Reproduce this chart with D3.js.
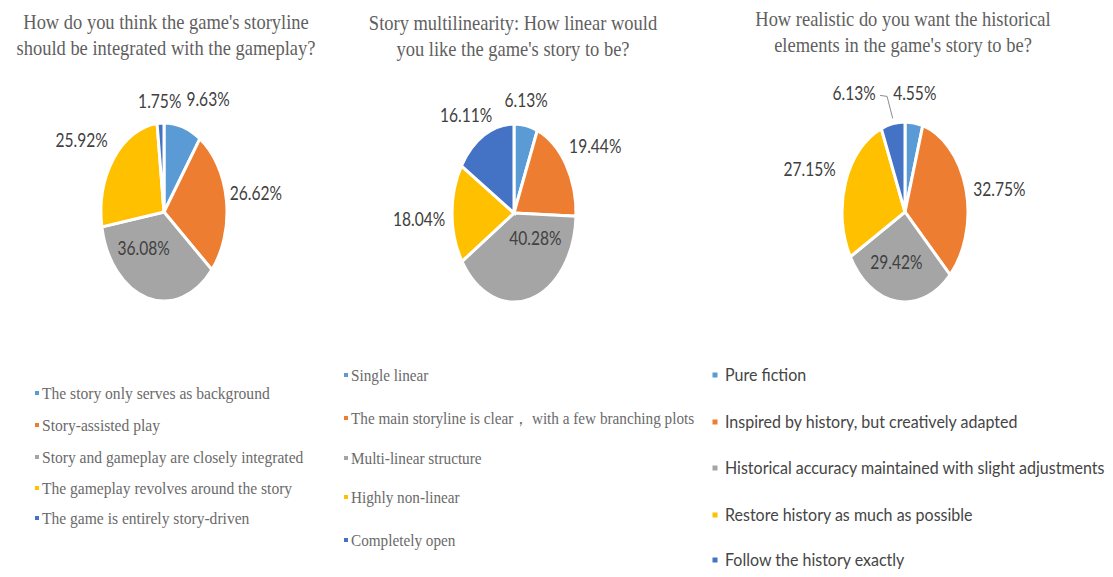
<!DOCTYPE html>
<html>
<head>
<meta charset="utf-8">
<script src="https://cdn.jsdelivr.net/npm/d3@7"></script>
<style>
  html, body { margin: 0; padding: 0; background: #ffffff; }
  svg { display: block; }
</style>
</head>
<body>
<svg id="chart" width="1113" height="577"></svg>
<script>
// ---- Survey answers (percent of respondents), clockwise from 12 o'clock ----
const integrationTitle = ["How do you think the game's storyline", "should be integrated with the gameplay?"];
const integrationCategories = [
  "The story only serves as background",
  "Story-assisted play",
  "Story and gameplay are closely integrated",
  "The gameplay revolves around the story",
  "The game is entirely story-driven"
];
const integrationValues = [9.63, 26.62, 36.08, 25.92, 1.75];

const linearityTitle = ["Story multilinearity: How linear would", "you like the game's story to be?"];
const linearityCategories = [
  "Single linear",
  "The main storyline is clear， with a few branching plots",
  "Multi-linear structure",
  "Highly non-linear",
  "Completely open"
];
const linearityValues = [6.13, 19.44, 40.28, 18.04, 16.11];

const realismTitle = ["How realistic do you want the historical", "elements in the game's story to be?"];
const realismCategories = [
  "Pure fiction",
  "Inspired by history, but creatively adapted",
  "Historical accuracy maintained with slight adjustments",
  "Restore history as much as possible",
  "Follow the history exactly"
];
const realismValues = [4.55, 32.75, 29.42, 27.15, 6.13];

const sliceColors = ["#5B9BD5", "#ED7D31", "#A5A5A5", "#FFC000", "#4472C4"];

// ---- Layout ----
const serif = "'Liberation Serif', 'Times New Roman', serif";
const sans = "Lato, 'Liberation Sans', sans-serif";

const panels = [
  {
    title: integrationTitle, categories: integrationCategories, values: integrationValues,
    cx: 164, cy: 212, rx: 63, ry: 89, titleX: 166, titleY: 29,
    // label placement: radial factor k and pixel nudge
    labels: [{k: 1.28, dx: 20, dy: 3}, {k: 1.47, dx: 0, dy: 5}, {k: 0.44, dx: -13, dy: 5},
             {k: 1.4, dx: -12, dy: 10}, {k: 1.23, dx: 0, dy: 5}],
    legend: {x: 37, y0: 393, textGap: 5, rows: [0, 32, 64, 95, 125], font: serif, size: 17.5, squeeze: 0.89, color: "#6a6a6a", marker: 4}
  },
  {
    title: linearityTitle, categories: linearityCategories, values: linearityValues,
    cx: 514, cy: 213, rx: 62, ry: 89, titleX: 513, titleY: 30,
    labels: [{k: 1.27, dx: -3, dy: 5}, {k: 1.35, dx: 11, dy: 5}, {k: 0.32, dx: 16, dy: 5},
             {k: 1.53, dx: 0, dy: 12}, {k: 1.23, dx: -11, dy: 5}],
    legend: {x: 346, y0: 375, textGap: 5, rows: [0, 43, 83, 122, 165], font: serif, size: 17.5, squeeze: 0.87, color: "#6a6a6a", marker: 4}
  },
  {
    title: realismTitle, categories: realismCategories, values: realismValues,
    cx: 905, cy: 212, rx: 63, ry: 90, titleX: 903, titleY: 26,
    labels: [{k: 1.31, dx: -2, dy: 5}, {k: 1.5, dx: 3, dy: 18}, {k: 0.58, dx: -4, dy: 5},
             {k: 1.4, dx: -12, dy: 5}, {k: 1.32, dx: -35, dy: 5}],
    leader: 4,
    legend: {x: 715, y0: 375, textGap: 10, rows: [0, 47, 93, 140, 185], font: sans, size: 18, squeeze: 0.89, color: "#454545", marker: 5}
  }
];

const svg = d3.select("#chart");

// Horizontally condensed text, anchored at (x, y)
function squeezedText(parent, x, y, str, opts) {
  const g = parent.append("g")
    .attr("transform", `translate(${x},${y}) scale(${opts.squeeze},1)`);
  return g.append("text")
    .attr("x", 0).attr("y", 0)
    .attr("text-anchor", opts.anchor || "start")
    .attr("font-family", opts.font)
    .attr("font-size", opts.size)
    .attr("fill", opts.color)
    .text(str);
}

const pie = d3.pie().sort(null).value(d => d);

panels.forEach(p => {
  // Title
  p.title.forEach((line, i) => {
    squeezedText(svg, p.titleX, p.titleY + i * 26, line,
      {font: serif, size: 21, squeeze: 0.88, color: "#5f5f5f", anchor: "middle"});
  });

  // Pie drawn as a circle of radius ry, stretched to an ellipse
  const arcs = pie(p.values);
  const arc = d3.arc().innerRadius(0).outerRadius(p.ry);
  const g = svg.append("g")
    .attr("transform", `translate(${p.cx},${p.cy}) scale(${p.rx / p.ry},1)`);
  g.selectAll("path").data(arcs).join("path")
    .attr("d", arc)
    .attr("fill", (d, i) => sliceColors[i])
    .attr("stroke", "#ffffff")
    .attr("stroke-width", 3)
    .attr("vector-effect", "non-scaling-stroke");

  // Percent labels
  const fmt = v => v.toFixed(2) + "%";
  arcs.forEach((a, i) => {
    const mid = (a.startAngle + a.endAngle) / 2;
    const L = p.labels[i];
    const x = p.cx + p.rx * L.k * Math.sin(mid) + L.dx;
    const y = p.cy - p.ry * L.k * Math.cos(mid) + L.dy;
    squeezedText(svg, x, y, fmt(a.data),
      {font: sans, size: 19, squeeze: 0.82, color: "#404040", anchor: "middle"});
    if (p.leader === i) {
      const ex = p.cx + p.rx * 1.02 * Math.sin(mid);
      const ey = p.cy - p.ry * 1.06 * Math.cos(mid);
      svg.append("path")
        .attr("d", `M${x + 26},${y - 5} L${x + 33},${y - 4} L${ex},${ey}`)
        .attr("fill", "none")
        .attr("stroke", "#8c8c8c")
        .attr("stroke-width", 1);
    }
  });

  // Legend
  const lg = p.legend;
  p.categories.forEach((c, i) => {
    const yc = lg.y0 + lg.rows[i];
    svg.append("rect")
      .attr("x", lg.x - lg.marker / 2)
      .attr("y", yc - lg.marker / 2)
      .attr("width", lg.marker)
      .attr("height", lg.marker)
      .attr("fill", sliceColors[i]);
    squeezedText(svg, lg.x + lg.textGap, yc + 5.5, c,
      {font: lg.font, size: lg.size, squeeze: lg.squeeze, color: lg.color});
  });
});
</script>
</body>
</html>
